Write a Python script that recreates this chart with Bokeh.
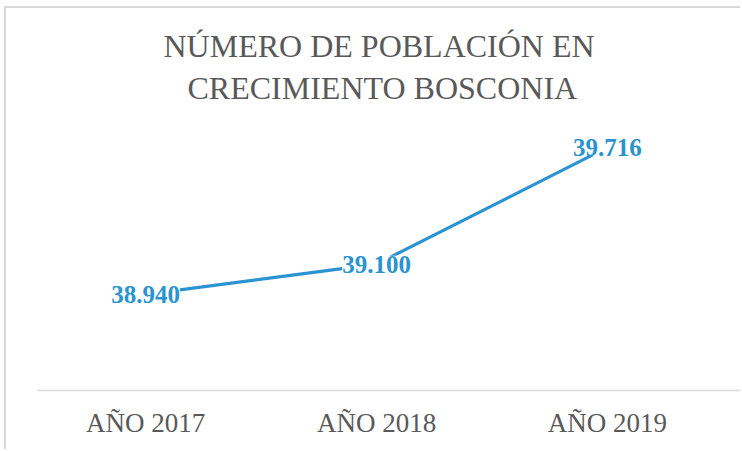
from bokeh.plotting import figure
from bokeh.models import ColumnDataSource, LabelSet, Range1d, FixedTicker, Title
from bokeh.embed import file_html
from bokeh.resources import INLINE

years = ["AÑO 2017", "AÑO 2018", "AÑO 2019"]
population = [38940, 39100, 39716]
title_lines = ["NÚMERO DE POBLACIÓN EN", "CRECIMIENTO BOSCONIA"]

xs = list(range(len(years)))
labels = [f"{v:,}".replace(",", ".") for v in population]
src = ColumnDataSource(dict(x=xs, y=population, lab=labels))

BLUE = "#2a93d1"
GRAY = "#595959"
SERIF = "Liberation Serif"

p = figure(width=736, height=443, output_backend="svg", toolbar_location=None,
           x_range=Range1d(-0.468, 2.576), y_range=Range1d(38433, 39911),
           min_border_left=31, min_border_right=2, min_border_bottom=61,
           min_border_top=102)
p.styles = {"border-left": "2px solid #d9d9d9", "border-top": "2px solid #d9d9d9",
            "margin-left": "4px", "margin-top": "6px"}
p.title = None
p.outline_line_color = None
p.grid.visible = False
p.yaxis.visible = False

ax = p.xaxis[0]
ax.ticker = FixedTicker(ticks=xs)
ax.major_label_overrides = {i: y for i, y in zip(xs, years)}
ax.major_tick_line_color = None
ax.minor_tick_line_color = None
ax.major_tick_out = 0
ax.major_tick_in = 0
ax.axis_line_color = "#d9d9d9"
ax.axis_line_width = 1.5
ax.major_label_standoff = 17
ax.major_label_text_font = SERIF
ax.major_label_text_font_size = "27px"
ax.major_label_text_color = GRAY

# added bottom line first: later titles stack above earlier ones
p.add_layout(Title(text=title_lines[1], align="left", offset=150,
                   text_font=SERIF, text_font_size="32px",
                   text_font_style="normal", text_color=GRAY, standoff=9), "above")
p.add_layout(Title(text=title_lines[0], align="left", offset=126,
                   text_font=SERIF, text_font_size="32px",
                   text_font_style="normal", text_color=GRAY, standoff=0), "above")

p.line("x", "y", source=src, line_color=BLUE, line_width=3.2)

ls = LabelSet(x="x", y="y", text="lab", source=src, text_align="center",
              text_baseline="middle", text_font=SERIF, text_font_size="25px",
              text_font_style="bold", text_color=BLUE,
              background_fill_color="white")
p.add_layout(ls)

open("out.html", "w").write(file_html(p, INLINE))
